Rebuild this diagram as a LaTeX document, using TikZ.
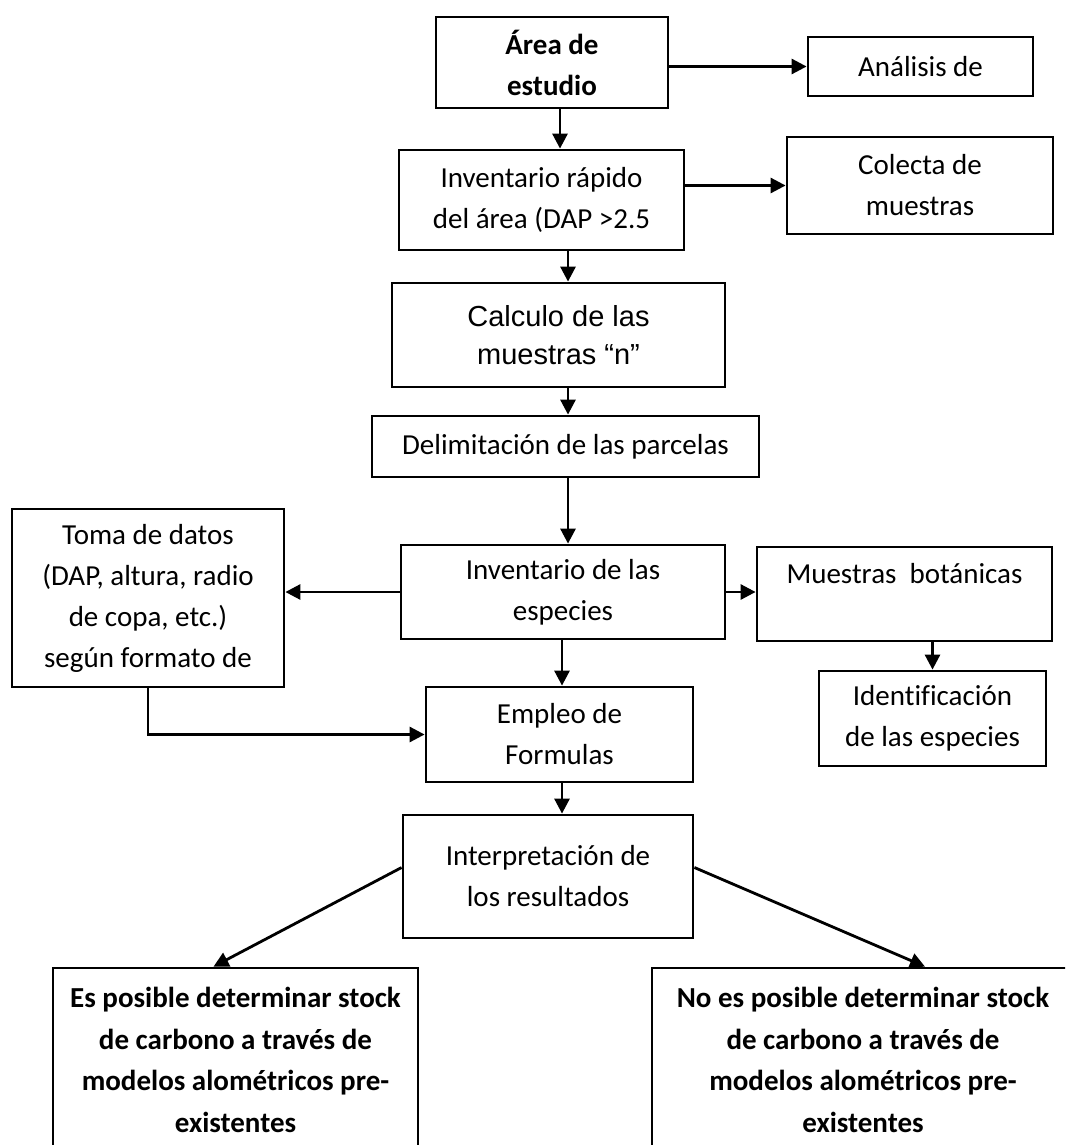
\documentclass[tikz,border=0pt]{standalone}
\usepackage{fontspec}
\setmainfont{Carlito}[Ligatures=NoCommon]
\newfontfamily\arialfont{Liberation Sans}
\usetikzlibrary{arrows.meta}

\begin{document}
\begin{tikzpicture}[x=1pt,y=-1pt,>={Triangle[length=15pt,width=15pt]},
  box/.style={draw, line width=2.8pt, inner sep=0pt, align=center, font=\fontsize{29}{41}\selectfont},
  flecha/.style={->, line width=2.8pt}]
\useasboundingbox (0,0) rectangle (1065,1145);
\fill[white] (0,0) rectangle (1065,1145);
\clip (0,0) rectangle (1065,1145);
\coordinate (colA) at (568,0);
\coordinate (colB) at (562,0);
\coordinate (colC) at (560,0);
\node[box, minimum width=232, minimum height=91] (area) at (552,62.5) {\textbf{Área de}\\ \textbf{estudio}};
\node[box, minimum width=225, minimum height=59] (analisis) at (920.5,66.5) {Análisis de};
\node[box, minimum width=285, minimum height=100] (invrap) at (541.5,200) {Inventario rápido\\ del área (DAP >2.5};
\node[box, minimum width=266, minimum height=97] (colecta) at (920,185.5) {Colecta de\\ muestras};
\node[box, minimum width=333, minimum height=104, font=\arialfont\fontsize{29}{38}\selectfont] (calculo) at (558.5,335) {Calculo de las\\ muestras “n”};
\node[box, minimum width=387, minimum height=61] (delim) at (565.5,446.5) {Delimitación de las parcelas};
\node[box, minimum width=324, minimum height=94] (invesp) at (563,592) {Inventario de las\\ especies};
\node[box, minimum width=272, minimum height=178] (toma) at (148,598) {Toma de datos\\ (DAP, altura, radio\\ de copa, etc.)\\ según formato de};
\node[box, minimum width=295, minimum height=94] (muestras) at (904.5,594) {Muestras~ botánicas\\ \mbox{}};
\node[box, minimum width=227, minimum height=95] (ident) at (932.5,718.5) {Identificación\\ de las especies};
\node[box, minimum width=267, minimum height=95] (empleo) at (559.5,734.5) {Empleo de\\ Formulas};
\node[box, minimum width=290, minimum height=123] (interp) at (548,876.5) {Interpretación de\\ los resultados};
\node[box, minimum width=365, minimum height=184, font=\bfseries\fontsize{29}{41.5}\selectfont] (esposible) at (235.5,1060) {Es posible determinar stock\\ de carbono a través de\\ modelos alométricos pre-\\ existentes};
\node[box, minimum width=422, minimum height=184, font=\bfseries\fontsize{29}{41.5}\selectfont] (noposible) at (863,1060) {No es posible determinar stock\\ de carbono a través de\\ modelos alométricos pre-\\ existentes};
\draw[flecha] (area.east |- analisis.west) -- (analisis.west);
\draw[flecha] (area.south -| colC) -- (invrap.north -| colC);
\draw[flecha] (invrap.east |- colecta.west) -- (colecta.west);
\draw[flecha] (invrap.south -| colA) -- (calculo.north -| colA);
\draw[flecha] (calculo.south -| colA) -- (delim.north -| colA);
\draw[flecha] (delim.south -| colA) -- (invesp.north -| colA);
\draw[flecha] (invesp.west) -- (toma.east |- invesp.west);
\draw[flecha] (invesp.east) -- (muestras.west |- invesp.east);
\draw[flecha] (muestras.south -| ident.north) -- (ident.north);
\draw[flecha] (invesp.south -| colB) -- (empleo.north -| colB);
\draw[flecha] (toma.south) -- (toma.south |- empleo.west) -- (empleo.west);
\draw[flecha] (empleo.south -| colB) -- (interp.north -| colB);
\draw[flecha] ([yshift=9pt]interp.west) -- ([xshift=-22pt]esposible.north);
\draw[flecha] ([yshift=9pt]interp.east) -- ([xshift=62pt]noposible.north);
\end{tikzpicture}
\end{document}
